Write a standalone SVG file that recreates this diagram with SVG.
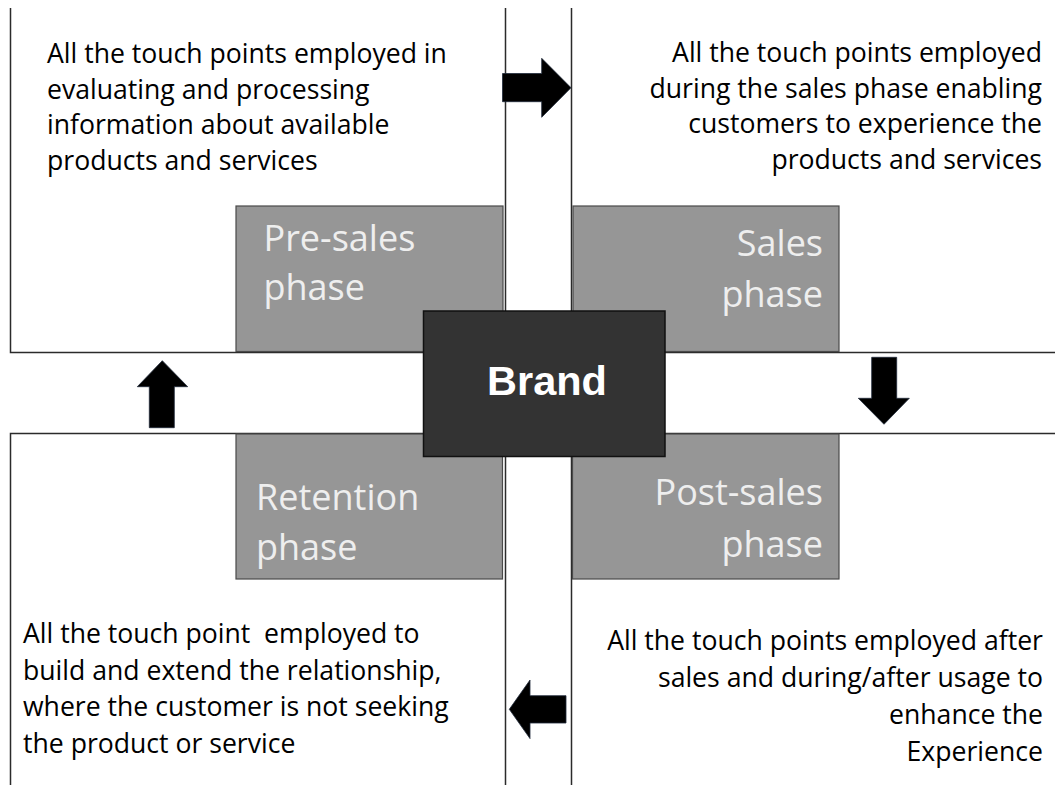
<svg xmlns="http://www.w3.org/2000/svg" width="1055" height="785" viewBox="0 0 1055 785">
  <style>
    .frame { fill: none; stroke: #2b2b2b; stroke-width: 1.5; }
    .phase { fill: #969696; stroke: #4a4a4a; stroke-width: 1.2; }
    .phase-label { font-family: "Open Sans", "Noto Sans", sans-serif; font-size: 36px; fill: #eeeeee; }
    .desc { font-family: "Open Sans", "Noto Sans", sans-serif; font-size: 26.6px; fill: #000000; white-space: pre; }
    .end { text-anchor: end; }
    .brand-box { fill: #333333; stroke: #111111; stroke-width: 1.5; }
    .brand-label { font-family: "Liberation Sans", Arial, sans-serif; font-weight: bold; font-size: 41.5px; fill: #ffffff; text-anchor: middle; }
    .arrow { fill: #000000; stroke: #1f2a3a; stroke-width: 0.8; stroke-linejoin: miter; }
  </style>

  <rect width="1055" height="785" fill="#ffffff"/>

  <!-- quadrant frames -->
  <g id="frames">
    <path class="frame" d="M10.5 8 V352.5 H505.5 V8"/>
    <path class="frame" d="M571.5 8 V352.5 H1055"/>
    <path class="frame" d="M10.5 785 V433.5 H505.5 V785"/>
    <path class="frame" d="M571.5 785 V433.5 H1055"/>
  </g>

  <!-- pre-sales quadrant -->
  <g id="presales">
    <rect class="phase" x="236" y="206" width="267" height="145.5"/>
    <text class="phase-label" x="263.5" y="250.7">Pre-sales</text>
    <text class="phase-label" x="263.5" y="300">phase</text>
    <text class="desc" x="47" y="62.7">All the touch points employed in</text>
    <text class="desc" x="47" y="98.5">evaluating and processing</text>
    <text class="desc" x="47" y="134.3">information about available</text>
    <text class="desc" x="47" y="170.1">products and services</text>
  </g>

  <!-- sales quadrant -->
  <g id="sales">
    <rect class="phase" x="573" y="206" width="266" height="145.5"/>
    <text class="phase-label end" x="823" y="255.5">Sales</text>
    <text class="phase-label end" x="823" y="307">phase</text>
    <text class="desc end" x="1042" y="62.3">All the touch points employed</text>
    <text class="desc end" x="1042" y="97.8">during the sales phase enabling</text>
    <text class="desc end" x="1042" y="133.3">customers to experience the</text>
    <text class="desc end" x="1042" y="169">products and services</text>
  </g>

  <!-- post-sales quadrant -->
  <g id="postsales">
    <rect class="phase" x="572.5" y="434" width="266.5" height="145"/>
    <text class="phase-label end" x="823" y="505">Post-sales</text>
    <text class="phase-label end" x="823" y="556.7">phase</text>
    <text class="desc end" x="1043" y="650">All the touch points employed after</text>
    <text class="desc end" x="1043" y="687">sales and during/after usage to</text>
    <text class="desc end" x="1043" y="724">enhance the</text>
    <text class="desc end" x="1043" y="761">Experience</text>
  </g>

  <!-- retention quadrant -->
  <g id="retention">
    <rect class="phase" x="236" y="434" width="266.5" height="145"/>
    <text class="phase-label" x="256" y="510">Retention</text>
    <text class="phase-label" x="256" y="560">phase</text>
    <text class="desc" x="23" y="643">All the touch point  employed to</text>
    <text class="desc" x="23" y="679.5">build and extend the relationship,</text>
    <text class="desc" x="23" y="716">where the customer is not seeking</text>
    <text class="desc" x="23" y="752.5">the product or service</text>
  </g>

  <!-- central brand -->
  <g id="brand">
    <rect class="brand-box" x="423.5" y="311" width="241.5" height="145.5"/>
    <text class="brand-label" x="547" y="395">Brand</text>
  </g>

  <!-- cycle arrows between the phases -->
  <g id="connectors">
    <polygon class="arrow" points="502.5,73.5 541.7,73.5 541.7,58.3 571,87.7 541.7,117.3 541.7,101.7 502.5,101.7"/>
    <polygon class="arrow" points="871.7,357.3 896.7,357.3 896.7,398.3 909.3,398.3 884,424.3 858.3,398.3 871.7,398.3"/>
    <polygon class="arrow" points="509.3,709.3 530,680 530,695.7 566,695.7 566,723 530,723 530,738.6"/>
    <polygon class="arrow" points="162.3,360.7 187.7,386.7 174.3,386.7 174.3,427.7 149.3,427.7 149.3,386.7 137.3,386.7"/>
  </g>
</svg>
